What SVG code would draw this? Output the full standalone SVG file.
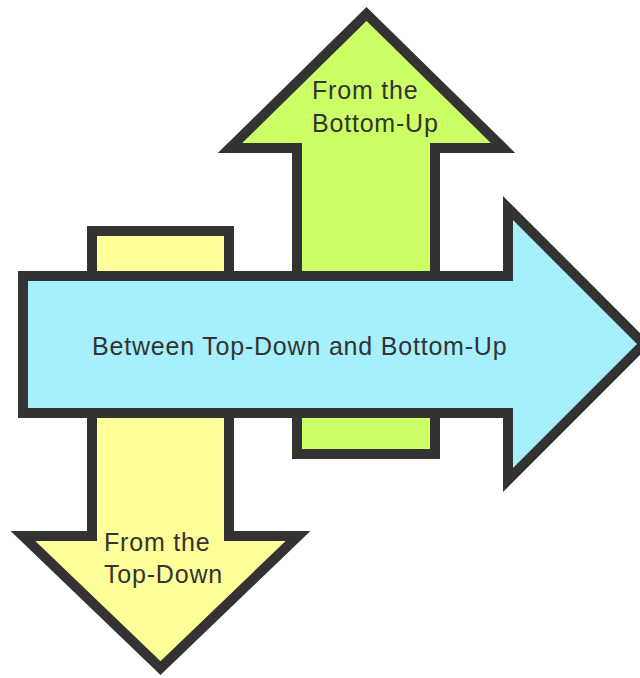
<svg xmlns="http://www.w3.org/2000/svg" width="640" height="678" viewBox="0 0 640 678">
<style>
.a{stroke:#333333;stroke-width:10;stroke-linejoin:miter;stroke-miterlimit:10}
.t{font-family:"Liberation Sans",Arial,sans-serif;font-size:25px;letter-spacing:0.8px;fill:#333333}
</style>
<rect width="640" height="678" fill="#ffffff"/>
<g id="top-down">
<path class="a" fill="#ffff99" d="M92,231 L229,231 L229,536 L298,536 L160.5,668 L23,536 L92,536 Z"/>
<text class="t" x="104" y="551">From the</text>
<text class="t" x="104" y="583">Top-Down</text>
</g>
<g id="bottom-up">
<path class="a" fill="#ccff66" d="M297,454 L435,454 L435,148 L503,148 L366.5,14 L230,148 L297,148 Z"/>
<text class="t" x="312" y="99">From the</text>
<text class="t" x="312" y="132">Bottom-Up</text>
</g>
<g id="between">
<path class="a" fill="#a6f0fd" d="M23,276 L508,276 L508,208 L644,344 L508,480 L508,413 L23,413 Z"/>
<text class="t" x="92" y="355">Between Top-Down and Bottom-Up</text>
</g>
</svg>
